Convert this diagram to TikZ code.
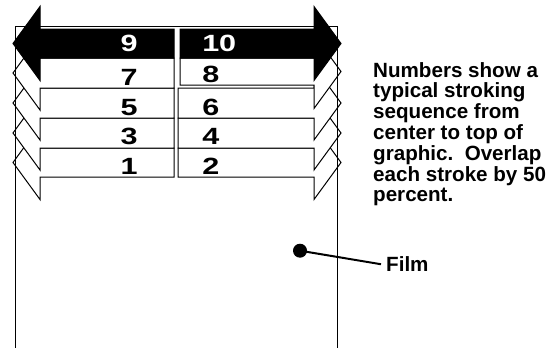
\documentclass[tikz,border=0pt]{standalone}
\usepackage{fontspec}
\setmainfont{Liberation Sans}
\usepackage{tikz}
\usetikzlibrary{calc}
\newcommand{\leftstroke}[3]{\filldraw[stroke,fill=#3] (174,#1) -- (40,#1) -- (40,{(#1+#2)/2-37}) -- (13,{(#1+#2)/2}) -- (40,{(#1+#2)/2+37}) -- (40,#2) -- (174,#2) -- cycle;}
\newcommand{\rightstroke}[4]{\filldraw[stroke,fill=#4] (#1,#2) -- (314,#2) -- (314,{(#2+#3)/2-37}) -- (341,{(#2+#3)/2}) -- (314,{(#2+#3)/2+37}) -- (314,#3) -- (#1,#3) -- cycle;}
\newcommand{\leftnum}[4]{\node[num,anchor=base,text=#4] (#1) at (129,#2) {#3};}
\newcommand{\rightnum}[4]{\node[num,anchor=base west,text=#4] (#1) at (202,#2) {#3};}

\begin{document}
\begin{tikzpicture}[x=1pt, y=-1pt,
    stroke/.style={line width=1pt, line join=miter},
    num/.style={inner sep=0pt, xscale=1.3, font=\fontsize{23.5}{23.5}\selectfont\bfseries},
    note/.style={inner sep=0pt, align=left, font=\fontsize{20.6}{20.8}\selectfont\bfseries},
    dot/.style={circle, fill=black, inner sep=0pt, minimum size=14pt},
    lead/.style={line width=2pt}]
        \useasboundingbox (0,0) rectangle (555,348);
        % row 1
        \leftstroke{148}{177}{white}
        \rightstroke{178}{148}{177}{white}
        \leftnum{n1}{174}{1}{black}
        \rightnum{n2}{174}{2}{black}
        % row 2
        \leftstroke{118}{148}{white}
        \rightstroke{178}{118}{148}{white}
        \leftnum{n3}{144}{3}{black}
        \rightnum{n4}{144}{4}{black}
        % row 3
        \leftstroke{88}{118}{white}
        \rightstroke{178}{88}{118}{white}
        \leftnum{n5}{115}{5}{black}
        \rightnum{n6}{115}{6}{black}
        % row 4
        \leftstroke{58}{88}{white}
        \rightstroke{180}{58}{85}{white}
        \leftnum{n7}{85}{7}{black}
        \rightnum{n8}{82}{8}{black}
        % row 5
        \leftstroke{29}{58}{black}
        \rightstroke{180}{29}{58}{black}
        \leftnum{n9}{52}{9}{white}
        \rightnum{n10}{52}{10}{white}

        % film
        \draw[line width=1pt] (15.7,348) -- (15.7,26) -- (337.5,26) -- (337.5,348);
        \node[dot] (spot) at (300,250.7) {};
        \node[note, anchor=base west, inner xsep=5pt] (film) at (381,271.7) {Film};
        \draw[lead] (spot.center) -- (film.west);

        \node[note, anchor=north west] (caption) at (373,62) {Numbers show a\\typical stroking\\sequence from\\center to top of\\graphic.\ \ Overlap\\each stroke by 50\\percent.};
    \end{tikzpicture}
\end{document}
